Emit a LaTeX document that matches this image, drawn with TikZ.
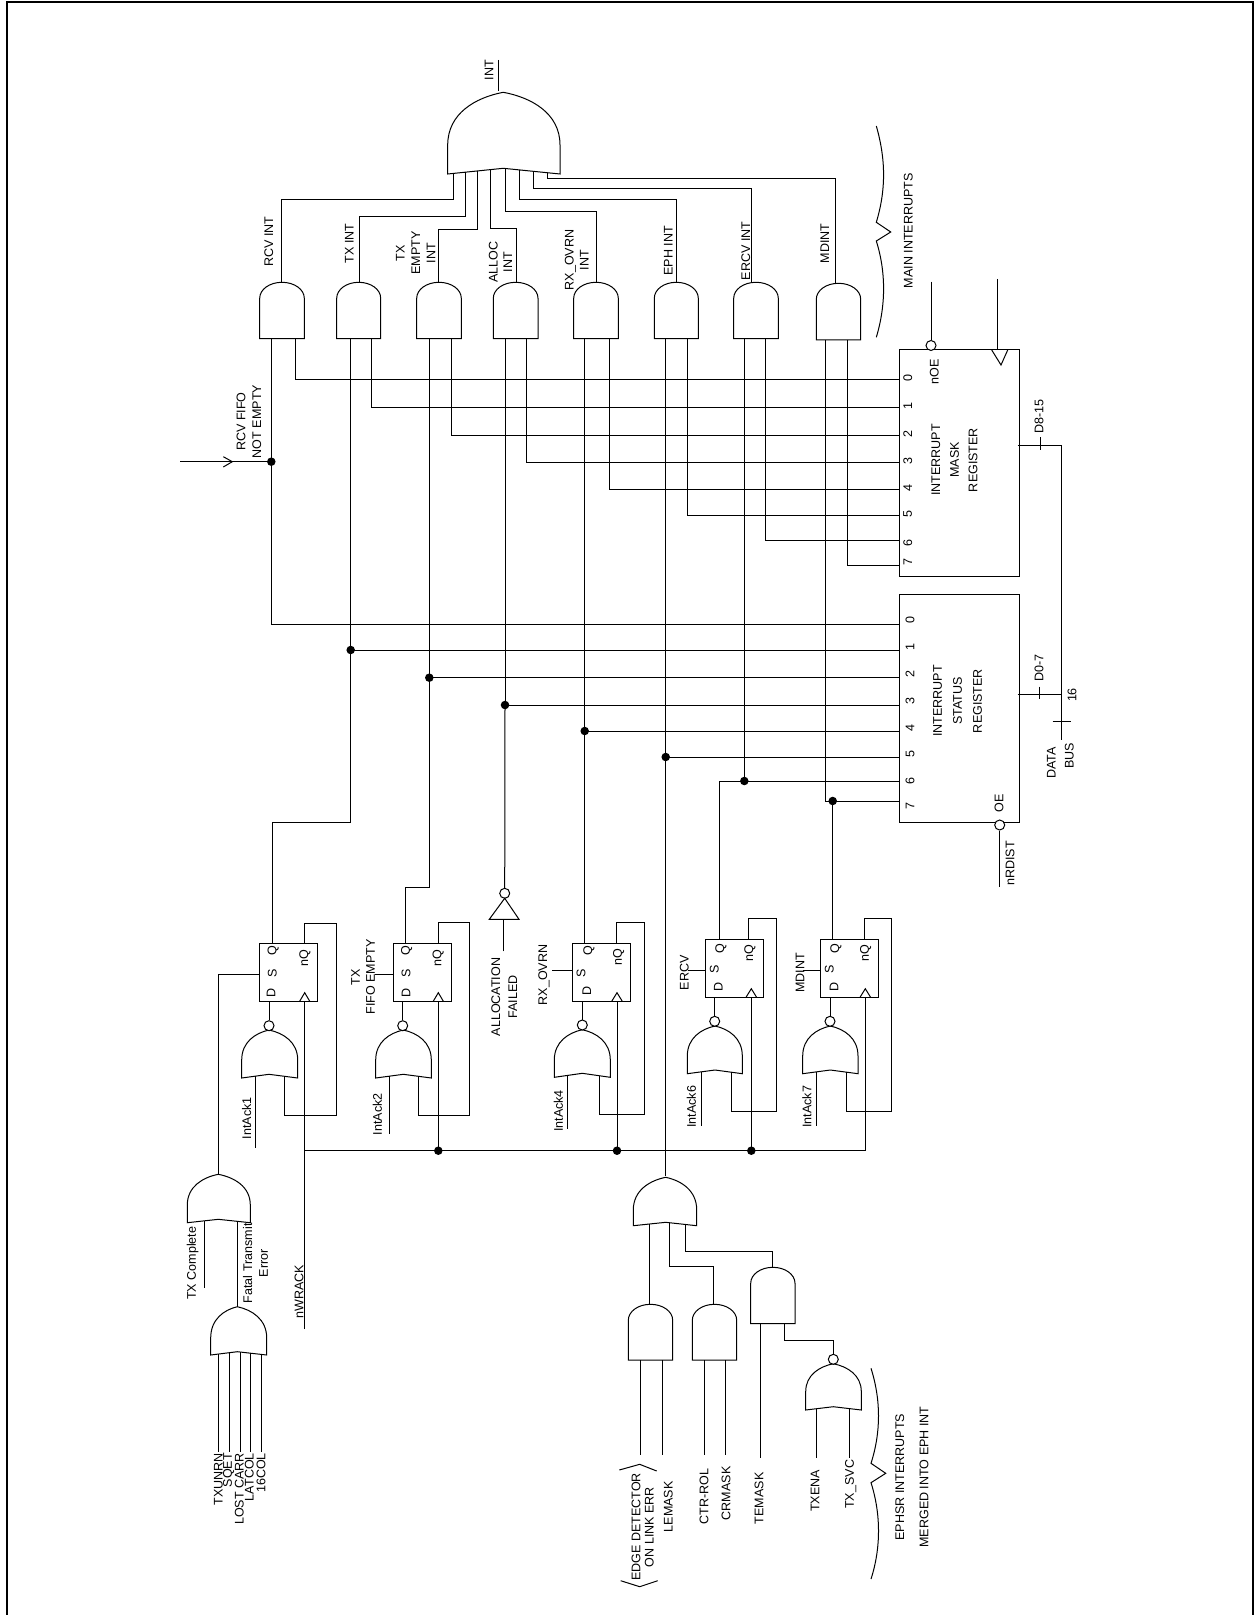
\documentclass[tikz,border=0pt]{standalone}
\usepackage{fontspec}
\setmainfont{Liberation Sans}
\newcommand{\andg}[8]{%
  \pgfmathsetmacro\gC{(#2+#3)/2}%
  \pgfmathsetmacro\gK{(#3-#2)*0.275}%
  \draw (#2,#5) -- (#2,#4+16) .. controls (#2,#4+7) and (\gC-\gK,#4) .. (\gC,#4)
     .. controls (\gC+\gK,#4) and (#3,#4+7) .. (#3,#4+16) -- (#3,#5) -- cycle;
  \coordinate (#1) at (#6,#4);
  \coordinate (#1-a) at (#7,#5);
  \coordinate (#1-b) at (#8,#5);
}
% name L R apexX T S B N
\newcommand{\org}[8]{%
  \pgfmathsetmacro\gHL{#4-#2}%
  \pgfmathsetmacro\gHR{#3-#4}%
  \pgfmathsetmacro\gH{#6-#5}%
  \draw (#2,#7) -- (#2,#6) .. controls (#2,#6-0.6*\gH) and (#4-0.5*\gHL,#5+0.1*\gH) .. (#4,#5)
     .. controls (#4+0.5*\gHR,#5+0.1*\gH) and (#3,#6-0.6*\gH) .. (#3,#6) -- (#3,#7) -- (#4,#8) -- cycle;
  \coordinate (#1) at (#4,#5);
  \def\gL{#2}\def\gR{#3}\def\gA{#4}\def\gB{#7}\def\gN{#8}%
}
\newcommand{\orin}[2]{%
  \pgfmathsetmacro\gY{\gB-(\gB-\gN)*ifthenelse(#2<\gA,(#2-\gL)/(\gA-\gL),(\gR-#2)/(\gR-\gA))}%
  \coordinate (#1) at (#2,\gY);
}
\newcommand{\clk}[3]{\draw (#1-5.3,#2) -- (#1,#3) -- (#1+5.3,#2);}
\begin{document}
\begin{tikzpicture}[x=0.75pt,y=-0.75pt,line width=0.75pt,
  lbl/.style={rotate=90,inner sep=0pt,align=center,font=\fontsize{9.4}{#1}\selectfont},
  lbl/.default=11.5,
  ffbox/.style={draw,inner sep=0pt,outer sep=0pt,minimum width=43.8pt,minimum height=43.8pt},
  regbox/.style={draw,inner sep=0pt,outer sep=0pt,minimum width=90.3pt},
  jdot/.style={circle,fill=black,inner sep=0pt,minimum size=6.4pt},
  bub/.style={circle,draw,fill=white,inner sep=0pt,minimum size=7.5pt}]
\useasboundingbox (0,0) rectangle (1255,1615);
\fill[white] (0,0) rectangle (1255,1615);
\coordinate (fa) at (7,1615); \coordinate (fb) at (7,2); \coordinate (fc) at (1253,2); \coordinate (fd) at (1253,1615);
\draw[line width=1.5pt] (fa) -- (fb) -- (fc) -- (fd);

% ---- main OR gate
\org{bigor}{447.7}{560}{503.3}{92.3}{145}{174}{168.3}
\orin{bo0}{453}\orin{bo1}{465}\orin{bo2}{477.3}\orin{bo3}{490.3}
\orin{bo4}{505}\orin{bo5}{519.7}\orin{bo6}{533.7}\orin{bo7}{547}
\coordinate (intt) at (498.3,60); \coordinate (intb) at (498.3,90.7);
\draw (intt) -- (intb);
\node[lbl] (tint) at (489,70) {INT};

% ---- AND row
\andg{g0}{259.7}{304.3}{282.3}{338.7}{281.7}{271.3}{295.3}
\andg{g1}{336.7}{380.7}{282.3}{338.7}{359.3}{350.7}{371.3}
\andg{g2}{416.7}{461.3}{282.3}{338.7}{438.7}{429.3}{451}
\andg{g3}{493.3}{538}{282.3}{338.7}{516.3}{505}{526.7}
\andg{g4}{573.7}{618.3}{282.3}{338.7}{596}{584.7}{609}
\andg{g5}{654.3}{698.3}{282.3}{338.7}{676.3}{665.7}{687.7}
\andg{g6}{733.7}{778.3}{282.3}{338.7}{751.7}{744.3}{765.3}
\andg{g7}{816.3}{860.7}{283.3}{340}{835}{825.7}{847.3}

\draw (bo0) -- ++(0,25.6) -| (g0);
\draw (bo1) -- ++(0,44) -| (g1);
\draw (bo2) -- ++(0,59) -| (g2);
\draw (bo3) -- ++(0,59) -| (g3);
\draw (bo4) -- ++(0,43.4) -| (g4);
\draw (bo5) -- ++(0,29.5) -| (g5);
\draw (bo6) -- ++(0,17) -| (g6);
\draw (bo7) -- ++(0,6) -| (g7);

\node[lbl] (trcv) at (268.7,241.7) {RCV INT};
\node[lbl] (ttx) at (349.3,243.3) {TX INT};
\node[lbl=11.5] (tte) at (415.7,253) {TX\\EMPTY\\INT};
\node[lbl=11] (tal) at (500.5,262) {ALLOC\\INT};
\node[lbl=11.2] (trx) at (576.8,260) {RX\_OVRN\\INT};
\node[lbl] (teph) at (668.3,251) {EPH INT};
\node[lbl] (terc) at (745.7,251) {ERCV INT};
\node[lbl] (tmd) at (824.7,243.3) {MDINT};

% ---- registers
\node[regbox,minimum height=169.5pt] (mask) at (959.5,463) {};
\node[regbox,minimum height=171pt] (stat) at (959.5,708.3) {};
\coordinate (m0) at (899.3,379.3); \coordinate (m1) at (899.3,407.7);
\coordinate (m2) at (899.3,435.7); \coordinate (m3) at (899.3,462);
\coordinate (m4) at (899.3,489.7); \coordinate (m5) at (899.3,515.3);
\coordinate (m6) at (899.3,540.3); \coordinate (m7) at (899.3,565);
\coordinate (s0) at (899.3,624.3); \coordinate (s1) at (899.3,650);
\coordinate (s2) at (899.3,677.7); \coordinate (s3) at (899.3,705);
\coordinate (s4) at (899.3,731); \coordinate (s5) at (899.3,757);
\coordinate (s6) at (899.3,781); \coordinate (s7) at (899.3,801);

\draw (g0-b) |- (m0); \draw (g1-b) |- (m1); \draw (g2-b) |- (m2); \draw (g3-b) |- (m3);
\draw (g4-b) |- (m4); \draw (g5-b) |- (m5); \draw (g6-b) |- (m6); \draw (g7-b) |- (m7);

\foreach \t/\y in {0/378.3,1/406,2/434,3/461,4/487.7,5/514.3,6/542.7,7/561.7}
  \node[lbl] (mt\t) at (907.7,\y) {\t};
\foreach \t/\y in {0/620,1/647,2/674,3/701,4/728,5/754.3,6/781,7/805.7}
  \node[lbl] (st\t) at (910,\y) {\t};
\node[lbl] (tnoe) at (934.3,371.7) {nOE};
\node[lbl=14] (tmask) at (954.5,460) {INTERRUPT\\MASK\\REGISTER};
\node[lbl=15] (tstat) at (957.7,701) {INTERRUPT\\STATUS\\REGISTER};
\node[lbl] (tmain) at (908.3,230.7) {MAIN INTERRUPTS};

% mask register extras
\node[bub] (noeb) at (931,345.5) {};
\coordinate (noet) at (931,281.7);
\draw (noet) -- (noeb);
\coordinate (mclkt) at (997.7,279); \coordinate (mclkb) at (997.7,350);
\draw (mclkt) -- (mclkb);
\coordinate (ma) at (991.7,350); \coordinate (mb) at (1001,365); \coordinate (mc) at (1007.7,350);
\draw (ma) -- (mb) -- (mc);

% data bus
\coordinate (d815) at (1017.7,445.3); \coordinate (busc) at (1061,445.3);
\coordinate (d07) at (1017.7,694.3); \coordinate (busj) at (1061,694.3);
\coordinate (bush) at (1061,740);
\draw (d815) -- (busc) -- (busj) -- (bush);
\draw (d07) -- (busj);
\coordinate (t1a) at (1040,437.3); \coordinate (t1b) at (1040,450); \draw (t1a) -- (t1b);
\coordinate (t2a) at (1039.7,686.7); \coordinate (t2b) at (1039.7,698.7); \draw (t2a) -- (t2b);
\coordinate (t3a) at (1052.7,721.7); \coordinate (t3b) at (1070.7,721.7); \draw (t3a) -- (t3b);
\node[lbl] (t815) at (1039,416.7) {D8-15};
\node[lbl] (t07) at (1039,668.3) {D0-7};
\node[lbl] (t16) at (1072,695) {16};
\node[lbl] (tdata) at (1051.3,762.7) {DATA};
\node[lbl] (tbus) at (1069.3,756) {BUS};
\node[bub] (oeb) at (999.7,825) {};
\coordinate (oet) at (999.7,887.3);
\draw (oeb) -- (oet);
\node[lbl] (trd) at (1010,863.3) {nRDIST};
\node[lbl] (toe) at (999,803.3) {OE};

% ---- junctions to status register
\node[jdot] (j0) at (271.3,461.7) {};
\node[jdot] (j1) at (350.7,650) {};
\node[jdot] (j2) at (429.3,677.7) {};
\node[jdot] (j3) at (505,705) {};
\node[jdot] (j4) at (584.7,731) {};
\node[jdot] (j5) at (665.7,757) {};
\node[jdot] (j6) at (744.3,781) {};
\node[jdot] (j7) at (832.7,801) {};

\coordinate (rcvin) at (180,461.7);
\draw (rcvin) -- (j0);
\coordinate (ra) at (223.3,456.7); \coordinate (rb) at (232.3,461.7); \coordinate (rc) at (223.3,467);
\draw (ra) -- (rb) -- (rc);
\node[lbl=11.8] (trf) at (249,421.5) {RCV FIFO\\NOT EMPTY};
\draw (g0-a) |- (s0);
\draw (j1.center) -- (s1); \draw (j2.center) -- (s2); \draw (j3.center) -- (s3);
\draw (j4.center) -- (s4); \draw (j5.center) -- (s5);
\draw (g6-a) -- (j6.center);
\draw (g7-a) |- (s7);

% ---- flip-flops
\node[ffbox] (ff1) at (288.5,972.5) {};
\node[ffbox] (ff2) at (422.3,972.5) {};
\node[ffbox] (ff4) at (601.5,972.3) {};
\node[ffbox] (ff6) at (734.3,968.5) {};
\node[ffbox] (ff7) at (849.7,968.5) {};
\coordinate (ff1q) at (272.3,943.3); \coordinate (ff1n) at (304.7,943.3); \coordinate (ff1d) at (269,1001.7); \coordinate (ff1s) at (259.3,974); \coordinate (ff1c) at (304.7,1001.7);
\coordinate (ff2q) at (405.7,943.3); \coordinate (ff2n) at (438.3,943.3); \coordinate (ff2d) at (402.7,1001.7); \coordinate (ff2s) at (393.3,974); \coordinate (ff2c) at (438.3,1001.7);
\coordinate (ff4q) at (584.7,943.3); \coordinate (ff4n) at (616.3,943.3); \coordinate (ff4d) at (582.3,1001.3); \coordinate (ff4s) at (572.7,970.7); \coordinate (ff4c) at (617,1001.3);
\coordinate (ff6q) at (719.3,939.7); \coordinate (ff6n) at (748.7,939.7); \coordinate (ff6d) at (714.7,997.3); \coordinate (ff6s) at (705.3,970.7); \coordinate (ff6c) at (751.3,997.3);
\coordinate (ff7q) at (832.7,939.7); \coordinate (ff7n) at (864.3,939.7); \coordinate (ff7d) at (830,997.3); \coordinate (ff7s) at (820.7,970.7); \coordinate (ff7c) at (865.3,997.3);
\clk{304.7}{1001.7}{992.7}
\clk{438.3}{1001.7}{992.7}
\clk{617}{1001.3}{992.7}
\clk{751.3}{997.3}{988.7}
\clk{865.3}{997.3}{988.7}

% Q outputs
\draw (g1-a) -- (j1.center) -- ++(0,172) -| (ff1q);
\draw (g2-a) -- (j2.center) -- ++(0,209.6) -| (ff2q);
\draw (g4-a) -- (j4.center) -- (ff4q);
\draw (ff6q) |- (s6);
\draw (ff7q) -- (j7.center);

% NOR gates
\org{nor1}{241.7}{297.7}{269}{1030}{1060}{1078}{1074.3}
\orin{nor1-a}{255.3}\orin{nor1-b}{284.7}
\org{nor2}{375.7}{431.3}{403.3}{1030}{1060}{1078}{1074.3}
\orin{nor2-a}{389}\orin{nor2-b}{418.7}
\org{nor4}{554.3}{610.3}{582.3}{1029.7}{1060}{1077.3}{1073.3}
\orin{nor4-a}{567.3}\orin{nor4-b}{599}
\org{nor6}{687.3}{742.3}{715}{1026}{1056}{1073.7}{1070}
\orin{nor6-a}{701.3}\orin{nor6-b}{731.3}
\org{nor7}{802.7}{858}{830.3}{1026}{1056}{1073.7}{1070}
\orin{nor7-a}{816.3}\orin{nor7-b}{846.7}
\node[bub] (b1) at (269,1025.7) {};
\node[bub] (b2) at (402.7,1025.7) {};
\node[bub] (b4) at (582.3,1025) {};
\node[bub] (b6) at (714.7,1021.3) {};
\node[bub] (b7) at (830,1021.3) {};
\draw (ff1d) -- (b1); \draw (ff2d) -- (b2); \draw (ff4d) -- (b4); \draw (ff6d) -- (b6); \draw (ff7d) -- (b7);

% IntAck inputs
\coordinate (ia1) at (255.3,1148.3); \coordinate (ia2) at (389,1134); \coordinate (ia4) at (567.3,1129.3);
\coordinate (ia6) at (701.3,1126); \coordinate (ia7) at (816.3,1126);
\draw (nor1-a) -- (ia1); \draw (nor2-a) -- (ia2); \draw (nor4-a) -- (ia4); \draw (nor6-a) -- (ia6); \draw (nor7-a) -- (ia7);
\node[lbl] (tia1) at (246.7,1118.3) {IntAck1};
\node[lbl] (tia2) at (377.3,1114.3) {IntAck2};
\node[lbl] (tia4) at (558.3,1111) {IntAck4};
\node[lbl] (tia6) at (691.3,1106.7) {IntAck6};
\node[lbl] (tia7) at (807,1106.7) {IntAck7};

% nQ feedback
\coordinate (fb1a) at (336,923.3); \coordinate (fb1b) at (336,1115.7);
\coordinate (fb2a) at (469.3,922.7); \coordinate (fb2b) at (469.3,1115.3);
\coordinate (fb4a) at (644,922.3); \coordinate (fb4b) at (644,1114.7);
\coordinate (fb6a) at (776.3,918.7); \coordinate (fb6b) at (776.3,1111);
\coordinate (fb7a) at (891.7,918.7); \coordinate (fb7b) at (891.7,1111);
\draw (ff1n) |- (fb1a) -- (fb1b) -| (nor1-b);
\draw (ff2n) |- (fb2a) -- (fb2b) -| (nor2-b);
\draw (ff4n) |- (fb4a) -- (fb4b) -| (nor4-b);
\draw (ff6n) |- (fb6a) -- (fb6b) -| (nor6-b);
\draw (ff7n) |- (fb7a) -- (fb7b) -| (nor7-b);

% clock bus
\coordinate (wrack) at (304.7,1329);
\coordinate (busl) at (304.7,1150.7);
\draw (wrack) -- (ff1c);
\draw (busl) -| (ff7c);
\node[jdot] (jb2) at (438.3,1150.7) {};
\node[jdot] (jb4) at (617,1150.7) {};
\node[jdot] (jb6) at (751.3,1150.7) {};
\draw (jb2.center) -- (ff2c); \draw (jb4.center) -- (ff4c); \draw (jb6.center) -- (ff6c);
\node[lbl] (twr) at (299,1291.7) {nWRACK};

% FF letters
\foreach \n/\dx/\dy/\sx/\sy/\qx/\qy/\nx/\ny in {
  1/271/993.3/272.3/973.3/273.3/950.7/305/957.7,
  2/406/993.3/406/973.3/406.7/950.7/438.3/957.7,
  4/586.7/991/581/973.3/589/950.7/618.7/957.3,
  6/718.3/986.7/714.3/969.3/721/948.3/750/953.3,
  7/834/986.7/829.3/969.3/836/948.3/865.7/953.3}{
  \node[lbl] (td\n) at (\dx,\dy) {D};
  \node[lbl] (ts\n) at (\sx,\sy) {S};
  \node[lbl] (tq\n) at (\qx,\qy) {Q};
  \node[lbl] (tn\n) at (\nx,\ny) {nQ};
}

% set inputs and their labels
\coordinate (s2in) at (375.3,974); \draw (s2in) -- (ff2s);
\coordinate (s4in) at (552.3,970.7); \draw (s4in) -- (ff4s);
\coordinate (s6in) at (688,970.7); \draw (s6in) -- (ff6s);
\coordinate (s7in) at (803.3,970.7); \draw (s7in) -- (ff7s);
\node[lbl=11.2] (ttf) at (363.2,977) {TX\\FIFO EMPTY};
\node[lbl] (trxo) at (544,975) {RX\_OVRN};
\node[lbl] (ter) at (684.3,972.7) {ERCV};
\node[lbl] (tmi) at (800,972.7) {MDINT};

% inverter
\node[bub] (invb) at (504.7,893.3) {};
\coordinate (ia) at (504.7,898.3); \coordinate (ib) at (489.3,919.3); \coordinate (ic) at (519,919.3);
\draw (ia) -- (ib) -- (ic) -- cycle;
\coordinate (alin) at (503.3,951.3); \coordinate (alout) at (503.3,919.3);
\draw (alin) -- (alout);
\draw (j3.center) -- (invb);
\draw (g3-a) -- (j3.center);
\node[lbl=12.8] (talf) at (504.2,997) {ALLOCATION\\FAILED};

% EPH branch
\draw (g5-a) -- (j5.center) -- ++(0,418.7);
\org{ephor}{633.3}{696.7}{665.7}{1177.3}{1210}{1225.7}{1222.3}
\orin{eo0}{649}\orin{eo1}{669.3}\orin{eo2}{685.7}
\andg{ga}{628.3}{672.7}{1304.3}{1360}{649}{640.3}{662.7}
\andg{gb}{692.3}{736.7}{1304.3}{1360}{713.3}{704.7}{725}
\andg{gc}{750.7}{795}{1267.3}{1323.7}{772.7}{760.7}{784.7}
\draw (eo0) -- (ga);
\draw (eo1) -- ++(0,44) -| (gb);
\draw (eo2) -- ++(0,27) -| (gc);
\org{norx}{805.7}{861.3}{833.3}{1363.7}{1391.7}{1410}{1406.7}
\orin{nx0}{816}\orin{nx1}{849}
\node[bub] (bx) at (833.3,1359.3) {};
\draw (gc-b) -- ++(0,16.6) -| (bx);
\coordinate (ca) at (640.3,1455.3); \coordinate (cb) at (662.7,1455.3);
\coordinate (cc) at (704.7,1455.3); \coordinate (cd) at (725,1455.3);
\coordinate (ce) at (760.7,1457.7); \coordinate (cf) at (816,1457.7); \coordinate (cg) at (849,1457.7);
\draw (ga-a) -- (ca); \draw (ga-b) -- (cb); \draw (gb-a) -- (cc); \draw (gb-b) -- (cd);
\draw (gc-a) -- (ce); \draw (nx0) -- (cf); \draw (nx1) -- (cg);
\node[lbl=10] (ted) at (642.7,1527) {EDGE DETECTOR\\ON LINK ERR};
\node[lbl] (tle) at (668.3,1506.7) {LEMASK};
\node[lbl] (tct) at (704,1496.7) {CTR-ROL};
\node[lbl] (tcr) at (726,1493.3) {CRMASK};
\node[lbl] (tte2) at (759,1498.3) {TEMASK};
\node[lbl] (ttxe) at (815,1491) {TXENA};
\node[lbl] (ttxs) at (850.7,1484.3) {TX\_SVC};
\coordinate (ea) at (619.3,1470); \coordinate (eb) at (639.7,1464.3); \coordinate (ec) at (656.7,1471);
\coordinate (ed) at (620.7,1580.7); \coordinate (ee) at (639.7,1586.7); \coordinate (ef) at (657.7,1580.7);
\draw (ea) -- (eb) -- (ec); \draw (ed) -- (ee) -- (ef);

% braces
\coordinate (bm1) at (876.3,126); \coordinate (bm2) at (876.3,222.3); \coordinate (bm3) at (890.7,232);
\coordinate (bm4) at (876.3,241); \coordinate (bm5) at (876.3,337.3);
\draw (bm1) .. controls (886,160) and (886,190) .. (bm2) -- (bm3) -- (bm4) .. controls (886,272) and (886,305) .. (bm5);
\coordinate (be1) at (871,1368.3); \coordinate (be2) at (871,1463.3); \coordinate (be3) at (885.7,1473.3);
\coordinate (be4) at (871,1482.7); \coordinate (be5) at (871,1579);
\draw (be1) .. controls (881,1400) and (881,1432) .. (be2) -- (be3) -- (be4) .. controls (881,1514) and (881,1548) .. (be5);
\node[lbl=18.2] (teph2) at (912,1477) {EPHSR INTERRUPTS\\MERGED INTO EPH INT};

% TX path
\org{txor}{187.3}{250.3}{218.3}{1174.3}{1205}{1222.7}{1219.3}
\orin{tx0}{204.3}\orin{tx1}{237.3}
\draw (ff1s) -| (txor);
\coordinate (txc) at (204.3,1287.7);
\draw (tx0) -- (txc);
\node[lbl] (ttxc) at (192.7,1263.3) {TX Complete};
\org{fte}{210.7}{266.7}{237.3}{1306.7}{1338}{1355}{1351.7}
\draw (tx1) -- (fte);
\node[lbl=11.7] (tfat) at (255.5,1263.3) {Fatal Transmit\\Error};
\orin{f0}{218}\orin{f1}{229.3}\orin{f2}{240}\orin{f3}{250.7}\orin{f4}{261.3}
\coordinate (fe0) at (218,1451.7); \coordinate (fe1) at (229.3,1451.7); \coordinate (fe2) at (240,1451.7);
\coordinate (fe3) at (250.7,1451.7); \coordinate (fe4) at (261.3,1451.7);
\draw (f0) -- (fe0); \draw (f1) -- (fe1); \draw (f2) -- (fe2); \draw (f3) -- (fe3); \draw (f4) -- (fe4);
\node[lbl,anchor=east] (tf0) at (218.3,1452.7) {TXUNRN};
\node[lbl,anchor=east] (tf1) at (228.7,1452.7) {SQET};
\node[lbl,anchor=east] (tf2) at (239.3,1452.7) {LOST CARR};
\node[lbl,anchor=east] (tf3) at (249.3,1452.7) {LATCOL};
\node[lbl,anchor=east] (tf4) at (261,1452.7) {16COL};
\end{tikzpicture}
\end{document}
